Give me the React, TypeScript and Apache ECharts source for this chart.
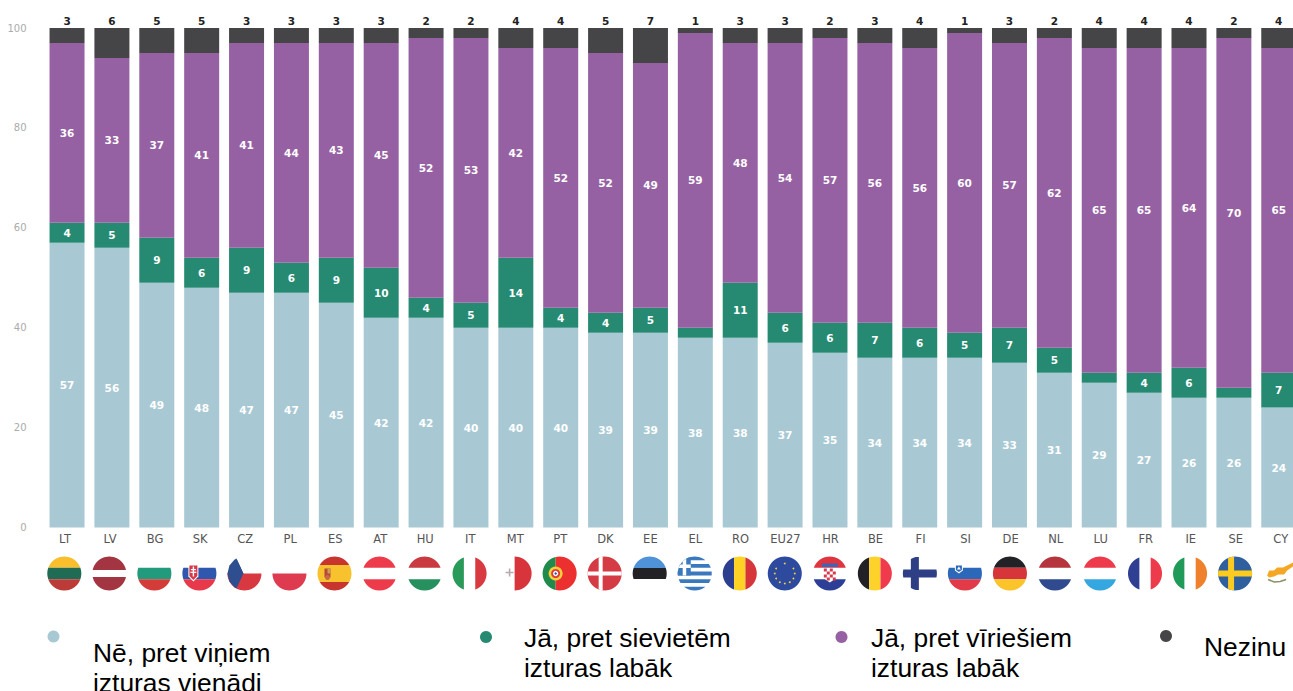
import React, { useEffect, useRef } from "react";
import * as echarts from "echarts";

const categories = ["LT","LV","BG","SK","CZ","PL","ES","AT","HU","IT","MT","PT","DK","EE","EL","RO","EU27","HR","BE","FI","SI","DE","NL","LU","FR","IE","SE","CY"];
const same = [57,56,49,48,47,47,45,42,42,40,40,40,39,39,38,38,37,35,34,34,34,33,31,29,27,26,26,24];
const women = [4,5,9,6,9,6,9,10,4,5,14,4,4,5,2,11,6,6,7,6,5,7,5,2,4,6,2,7];
const men = [36,33,37,41,41,44,43,45,52,53,42,52,52,49,59,48,54,57,56,56,60,57,62,65,65,64,70,65];
const unknown = [3,6,5,5,3,3,3,3,2,2,4,4,5,7,1,3,3,2,3,4,1,3,2,4,4,4,2,4];
const seriesNames = ["Nē, pret viņiem\nizturas vienādi", "Jā, pret sievietēm\nizturas labāk", "Jā, pret vīriešiem\nizturas labāk", "Nezinu"];
const yTicks = { min: 0, max: 100, interval: 20 };

const COLORS = ["#A8C9D4", "#268A72", "#9661A3", "#454547"];
const R = 17;
const FLAG_Y = 573.5;
const flagX = (i: number) => 64.3 + 45.03 * i;

type Rect = [string, number, number, number, number];
const hb = (cs: (string | null)[], cuts?: number[]): Rect[] => {
  const c = cuts || cs.map((_, i) => -R + ((i + 1) * 2 * R) / cs.length);
  return cs.flatMap((col, i) => (col ? [[col, -R, R, i === 0 ? -R : c[i - 1], c[i]] as Rect] : []));
};
const vb = (cs: (string | null)[], cuts?: number[]): Rect[] => {
  const c = cuts || cs.map((_, i) => -R + ((i + 1) * 2 * R) / cs.length);
  return cs.flatMap((col, i) => (col ? [[col, i === 0 ? -R : c[i - 1], c[i], -R, R] as Rect] : []));
};
const cross = (bg: string | null, fg: string, x: number, w: number): Rect[] => [
  ...(bg ? [[bg, -R, R, -R, R] as Rect] : []),
  [fg, x - w / 2, x + w / 2, -R, R],
  [fg, -R, R, -w / 2, w / 2],
];

const flagRects: Record<string, Rect[]> = {
  LT: hb(["#F9BE2C", "#1F6B54", "#BC3A38"]),
  LV: hb(["#A33543", null, "#A33543"], [-3.5, 3.5, R]),
  BG: hb([null, "#229A7C", "#D33C38"]),
  SK: hb([null, "#2F57AE", "#E8394A"]),
  CZ: hb([null, "#D8383F"], [0, R]),
  PL: hb([null, "#DE3B50"], [0, R]),
  ES: hb(["#C8342E", "#F8C22E", "#C8342E"], [-8.5, 8.5, R]),
  AT: hb(["#EE3B4B", null, "#EE3B4B"]),
  HU: hb(["#C93B40", null, "#27905F"]),
  IT: vb(["#2A9A58", null, "#D73A40"]),
  MT: vb([null, "#D8343C"], [0, R]),
  PT: vb(["#1F8A4C", "#EC2F2F"], [-4, R]),
  DK: cross("#D43B45", "#FFFFFF", -4, 4),
  EE: hb(["#4F92D8", "#222226"], [-5.5, 5.5]),
  EL: [
    ...hb(["#3B79BE", null, "#3B79BE", null, "#3B79BE", null, "#3B79BE", null, "#3B79BE"]),
    ["#3B79BE", -R, -4, -R, 2],
    ["#FFFFFF", -R, -4, -9, -5.5],
    ["#FFFFFF", -12, -8.5, -R, 2],
  ],
  RO: vb(["#2C3F8E", "#FFD323", "#D6353A"]),
  EU27: [["#2D4A9E", -R, R, -R, R]],
  HR: hb(["#E0353F", null, "#2D3E96"]),
  BE: vb(["#222226", "#FDD32B", "#EF3B4B"]),
  FI: cross(null, "#2F3F85", -5, 8),
  SI: hb([null, "#2C68BA", "#E23A46"]),
  DE: hb(["#222226", "#D6353A", "#FBC42A"]),
  NL: hb(["#B5343E", null, "#2F4A8E"]),
  LU: hb(["#EE3B4B", null, "#34A6E0"]),
  FR: vb(["#2F3F92", null, "#EE3B4B"]),
  IE: vb(["#1F9A58", null, "#F0812C"]),
  SE: [...cross("#2F5F9C", "#FBCB20", -4, 6)],
  CY: [],
};

function clipped(cx: number, [fill, x0, x1, y0, y1]: Rect) {
  const left: number[][] = [];
  const right: number[][] = [];
  const a = Math.max(y0, -R);
  const b = Math.min(y1, R);
  for (let y = a; ; y += 0.5) {
    const yy = Math.min(y, b);
    const hw = Math.sqrt(Math.max(0, R * R - yy * yy));
    const l = Math.max(x0, -hw);
    const r = Math.min(x1, hw);
    if (l <= r) {
      left.push([cx + l, FLAG_Y + yy]);
      right.unshift([cx + r, FLAG_Y + yy]);
    }
    if (yy >= b) break;
  }
  return { type: "polygon", silent: true, shape: { points: [...left, ...right] }, style: { fill } };
}
const poly = (cx: number, pts: number[][], fill: string) => ({
  type: "polygon", silent: true,
  shape: { points: pts.map(([x, y]) => [cx + x, FLAG_Y + y]) }, style: { fill },
});
const box = (cx: number, x: number, y: number, w: number, h: number, fill: string) => ({
  type: "rect", silent: true, shape: { x: cx + x, y: FLAG_Y + y, width: w, height: h }, style: { fill },
});
const dot = (cx: number, x: number, y: number, r: number, fill: string) => ({
  type: "circle", silent: true, shape: { cx: cx + x, cy: FLAG_Y + y, r }, style: { fill },
});

function flagEmblems(code: string, cx: number): any[] {
  switch (code) {
    case "SK":
      return [poly(cx, [[-11, -9], [-1, -9], [-1, 3], [-6, 8], [-11, 3]], "#FFFFFF"), poly(cx, [[-10, -8], [-2, -8], [-2, 2.5], [-6, 6.5], [-10, 2.5]], "#D8394A"), box(cx, -6.7, -7, 1.4, 10, "#FFFFFF"), box(cx, -8.5, -4.5, 5, 1.2, "#FFFFFF"), box(cx, -9, -1.8, 6, 1.2, "#FFFFFF")];
    case "CZ":
      return [poly(cx, [[-10, -13.7], [-8, -15], [-1, 0], [-8, 15], [-10, 13.7], [-15, 8], [-17, 0], [-15, -8]], "#2F4E8F"), poly(cx, [[-8, -15], [-1, 0], [-8, 0]], "#2F4E8F")];
    case "ES":
      return [box(cx, -10, -5, 6, 9, "#B5483A"), box(cx, -7, -5, 3, 5, "#C8A050"), dot(cx, -7, 4, 2.5, "#C86A4A")];
    case "MT":
      return [box(cx, -5.8, -5, 1.6, 8, "#B8A8B0"), box(cx, -9, -1.8, 8, 1.6, "#B8A8B0")];
    case "PT":
      return [dot(cx, -4, 0, 7, "#F2D13A"), dot(cx, -4, 0, 4.5, "#E3393A"), dot(cx, -4, 0, 2.6, "#FFFFFF"), dot(cx, -4, 0, 1.2, "#2F4E9A")];
    case "EU27":
      return Array.from({ length: 12 }, (_, k) => dot(cx, 10 * Math.cos((k * Math.PI) / 6), 10 * Math.sin((k * Math.PI) / 6), 0.9, "#F5D43C"));
    case "HR": {
      const cells: any[] = [poly(cx, [[-6, -5], [6, -5], [6, 5], [0, 9], [-6, 5]], "#FFFFFF")];
      for (let r = 0; r < 4; r++) for (let c = 0; c < 4; c++) if ((r + c) % 2 === 0) cells.push(box(cx, -6 + c * 3, -5 + r * 3, 3, 3, "#D8394A"));
      cells.push(box(cx, -8, -10, 16, 3.5, "#3E64B8"));
      return cells;
    }
    case "SI":
      return [poly(cx, [[-10, -10], [-2, -10], [-2, -3], [-6, 0], [-10, -3]], "#FFFFFF"), poly(cx, [[-9, -8], [-3, -8], [-3, -3.5], [-6, -1.5], [-9, -3.5]], "#2C68BA"), poly(cx, [[-8, -4], [-6, -7], [-4, -4]], "#FFFFFF")];
    case "CY":
      return [
        poly(cx, [[-13, 2], [-11, -3], [-6, -3], [-3, -6], [3, -6], [7, -8], [13, -11], [13, -7], [7, -3], [4, 1], [-2, 1], [-6, 3], [-11, 4]], "#F5A623"),
        { type: "polyline", silent: true, shape: { points: [[cx - 12, FLAG_Y + 6], [cx - 6, FLAG_Y + 8.5], [cx, FLAG_Y + 8], [cx + 6, FLAG_Y + 6]] }, style: { stroke: "#8E8F62", lineWidth: 1.5, fill: "none" } },
      ];
    default:
      return [];
  }
}

const flagGraphics = categories.flatMap((code, i) => {
  const cx = flagX(i);
  return [...(flagRects[code] || []).map((r) => clipped(cx, r)), ...flagEmblems(code, cx)];
});

const legendSpots = [
  { mx: 53.5, my: 636.5, tx: 93, ty: 668 },
  { mx: 486, my: 637, tx: 524, ty: 653 },
  { mx: 841.5, my: 637, tx: 871, ty: 653 },
  { mx: 1166, my: 636, tx: 1204, ty: 647 },
];
const legendGraphics = seriesNames.flatMap((name, i) => {
  const s = legendSpots[i];
  return [
    { type: "circle", silent: true, shape: { cx: s.mx, cy: s.my, r: 6 }, style: { fill: COLORS[i] } },
    {
      type: "text", silent: true, x: s.tx, y: s.ty,
      style: { text: name, fill: "#000000", font: '26.4px "Liberation Sans"', lineHeight: 30, textAlign: "left", textVerticalAlign: "middle" },
    },
  ];
});

const labelFont = { fontFamily: "DejaVu Sans", fontSize: 10.5, fontWeight: "bold" as const };
const makeSeries = (name: string, data: number[], i: number, label: any) => ({
  name: name.replace("\n", " "), type: "bar", stack: "total", data, barWidth: 35,
  itemStyle: { color: COLORS[i] }, label: { show: true, ...labelFont, ...label },
});

export default function App() {
  const ref = useRef<HTMLDivElement>(null);
  useEffect(() => {
    document.body.style.margin = "0";
    const chart = echarts.init(ref.current!, null, { renderer: "svg" });
    chart.setOption({
      animation: false,
      backgroundColor: "#FFFFFF",
      grid: [
        { left: 44.6, top: 28, width: 1256.6, height: 499.5 },
        { left: 42.5, top: 28, width: 1260.8, height: 499.5 },
      ],
      xAxis: [
        {
          type: "category", data: categories, gridIndex: 0,
          axisLine: { show: false }, axisTick: { show: false }, axisLabel: { show: false },
        },
        {
          type: "category", data: categories, gridIndex: 1,
          axisLine: { show: false }, axisTick: { show: false },
          axisLabel: { interval: 0, margin: 5, color: "#555555", fontFamily: "DejaVu Sans", fontSize: 11.5 },
        },
      ],
      yAxis: [
        {
          type: "value", gridIndex: 0, ...yTicks,
          axisLine: { show: false }, axisTick: { show: false }, splitLine: { show: false },
          axisLabel: { margin: 18, color: "#ABABAB", fontFamily: "DejaVu Sans", fontSize: 10 },
        },
        {
          type: "value", gridIndex: 1, ...yTicks, show: false, splitLine: { show: false },
        },
      ],
      series: [
        makeSeries(seriesNames[0], same, 0, { position: "inside", color: "#FFFFFF" }),
        makeSeries(seriesNames[1], women, 1, { position: "inside", color: "#FFFFFF", formatter: (p: any) => (p.value > 2 ? String(p.value) : "") }),
        makeSeries(seriesNames[2], men, 2, { position: "inside", color: "#FFFFFF" }),
        makeSeries(seriesNames[3], unknown, 3, { position: "top", distance: 2, color: "#222222" }),
      ],
      graphic: [...flagGraphics, ...legendGraphics],
    });
    return () => chart.dispose();
  }, []);
  return (
    <div style={{ position: "fixed", left: 0, top: 0, width: 1293, height: 691, overflow: "hidden" }}>
      <div ref={ref} style={{ width: 1320, height: 691 }} />
    </div>
  );
}
